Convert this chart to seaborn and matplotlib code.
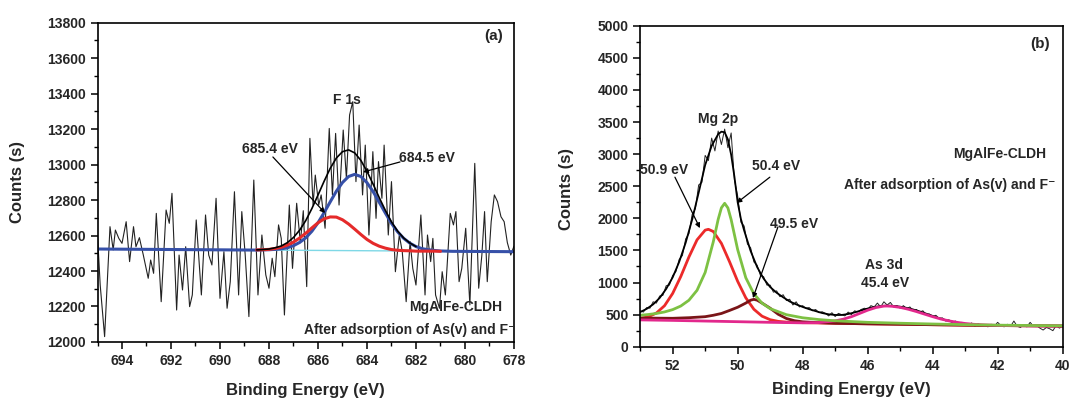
import seaborn as sns
import matplotlib.pyplot as plt
from matplotlib.ticker import MultipleLocator

sns.set_style('ticks')
plt.rcParams['font.family'] = ['Liberation Sans', 'DejaVu Sans']
plt.rcParams['font.weight'] = 'bold'
plt.rcParams['axes.labelweight'] = 'bold'

# ---------------- panel (a): F 1s ----------------
f1s_energy = [695.00, 694.89, 694.71, 694.49, 694.36, 694.27, 694.13, 694.00, 693.83, 693.69,
              693.53, 693.43, 693.29, 693.13, 692.93, 692.83, 692.71, 692.60, 692.40, 692.20,
              692.07, 691.96, 691.77, 691.67, 691.53, 691.40, 691.24, 691.13, 690.97,
              690.76, 690.59, 690.46, 690.33, 690.16, 690.00, 689.84, 689.71, 689.58, 689.41,
              689.24, 689.11, 688.97, 688.82, 688.62, 688.45, 688.29, 688.13, 688.00, 687.87,
              687.76, 687.61, 687.50, 687.37, 687.17, 687.04, 686.87, 686.72, 686.60,
              686.46, 686.33, 686.20, 686.11, 685.97, 685.87, 685.71, 685.54, 685.41, 685.28,
              685.14, 684.97, 684.84, 684.71, 684.58, 684.45, 684.32, 684.18, 684.07, 683.92,
              683.76, 683.63, 683.53, 683.39, 683.30, 683.13, 683.00, 682.84, 682.68,
              682.56, 682.40, 682.24, 682.13, 682.00, 681.80, 681.63, 681.53, 681.40, 681.31,
              681.20, 681.04, 680.93, 680.80, 680.60, 680.47, 680.37, 680.24, 680.13, 679.97,
              679.80, 679.60, 679.44, 679.31, 679.20, 679.09, 678.93, 678.80, 678.67, 678.53,
              678.40, 678.27, 678.13, 678.00]
f1s_counts = [12603, 12321, 12030, 12650, 12519, 12631, 12584, 12556, 12678, 12453,
              12650, 12537, 12588, 12490, 12359, 12462, 12387, 12725, 12227, 12744,
              12669, 12838, 12180, 12490, 12293, 12537, 12199, 12265, 12688,
              12265, 12716, 12490, 12434, 12810, 12246, 12509, 12190, 12340, 12847,
              12265, 12735, 12490, 12143, 12913, 12265, 12603, 12378, 12303, 12472,
              12368, 12660, 12584, 12152, 12772, 12415, 12782, 12560, 12740,
              12312, 13148, 12772, 12941, 12772, 12829, 12641, 13204, 12829, 13176,
              12772, 13195, 12923, 13280, 13355, 12904, 13223, 12829, 13110, 12603,
              13073, 12697, 13017, 12810, 13110, 12603, 12904, 12396, 12603,
              12509, 12227, 12566, 12415, 12321, 12716, 12265, 12603, 12453, 12584,
              12265, 12190, 12396, 12265, 12725, 12660, 12735, 12340, 12415, 12641,
              12209, 13007, 12303, 12490, 12735, 12340, 12678, 12829, 12791, 12706,
              12678, 12560, 12490, 12540]

base_a_energy = [695.0, 678.0]
base_a_counts = [12524, 12509]

fit_a_energy = [695.0, 688.5, 688.25, 688.0, 687.75, 687.5, 687.25, 687.0, 686.75, 686.5,
                686.25, 686.0, 685.75, 685.5, 685.25, 685.0, 684.75, 684.5, 684.25, 684.0,
                683.75, 683.5, 683.25, 683.0, 682.75, 682.5, 682.25, 682.0, 681.75, 681.5,
                681.25, 681.0, 680.75, 680.5, 678.0]
red_a = [12524, 12519, 12520, 12522, 12527, 12534, 12546, 12563, 12586, 12613,
         12643, 12672, 12694, 12705, 12704, 12689, 12665, 12636, 12606, 12578,
         12556, 12540, 12529, 12521, 12517, 12515, 12514, 12512, 12512, 12512,
         12512, 12511, 12511, 12511, 12509]
blue_a = [12524, 12518, 12519, 12520, 12522, 12525, 12531, 12543, 12561, 12587,
          12624, 12672, 12729, 12790, 12850, 12899, 12933, 12945, 12933, 12898,
          12848, 12788, 12727, 12669, 12621, 12584, 12557, 12538, 12526, 12520,
          12516, 12513, 12512, 12511, 12509]
sum_a = [12524, 12519, 12521, 12524, 12531, 12541, 12560, 12589, 12630, 12684,
         12752, 12828, 12906, 12979, 13037, 13073, 13083, 13066, 13024, 12962,
         12890, 12814, 12742, 12677, 12625, 12586, 12558, 12538, 12526, 12520,
         12516, 12513, 12512, 12511, 12509]

# ---------------- panel (b): Mg 2p / As 3d ----------------
mg_energy = [round(53.0 - 0.1 * i, 1) for i in range(131)]
mg_counts = [560, 540, 610, 600, 700, 680, 790, 800, 950, 960,
             1110, 1170, 1360, 1420, 1680, 1760, 2060, 2150, 2520, 2560,
             2980, 2900, 3250, 3050, 3360, 3150, 3390, 3100, 3330, 2600,
             2350, 1940, 1880, 1600, 1540, 1320, 1270, 1110, 1090, 960,
             960, 850, 870, 780, 810, 720, 740, 650, 700, 620,
             640, 600, 610, 560, 580, 530, 545, 520, 480, 530,
             470, 520, 500, 480, 540, 500, 560, 540, 580, 600,
             580, 640, 620, 680, 620, 700, 650, 690, 620, 640,
             600, 640, 590, 620, 560, 580, 540, 560, 500, 510,
             470, 490, 440, 450, 400, 420, 380, 400, 360, 380,
             340, 330, 370, 320, 360, 330, 340, 310, 350, 320,
             380, 330, 310, 350, 320, 400, 320, 300, 340, 310,
             380, 320, 330, 290, 260, 300, 280, 250, 330, 290,
             320]

env_b_energy = [round(53.0 - 0.1 * i, 1) for i in range(111)] + [41.0, 40.0]
env_b_counts = [540, 565, 590, 625, 660, 710, 760, 830, 900, 990,
                1080, 1200, 1320, 1470, 1620, 1800, 1980, 2190, 2400, 2615,
                2830, 2980, 3130, 3220, 3310, 3350, 3340, 3230, 2990, 2650,
                2250, 1990, 1810, 1650, 1490, 1365, 1240, 1150, 1060, 995,
                930, 885, 840, 805, 770, 738, 705, 683, 660, 640,
                620, 602, 585, 570, 555, 540, 525, 515, 505, 500,
                495, 494, 495, 502, 510, 522, 535, 550, 565, 580,
                595, 607, 618, 626, 633, 637, 640, 638, 636, 630,
                624, 615, 605, 593, 580, 565, 550, 533, 515, 498,
                480, 462, 445, 430, 415, 402, 390, 380, 370, 362,
                355, 350, 345, 342, 340, 338, 337, 336, 334, 333,
                332, 327, 322]

red_b_energy = [53.0, 52.75, 52.5, 52.25, 52.0, 51.75, 51.5, 51.25, 51.0, 50.9,
                50.75, 50.5, 50.25, 50.0, 49.75, 49.5, 49.25, 49.0, 48.75, 48.5,
                48.0, 47.0, 46.0, 45.0, 44.0, 43.0, 42.0, 41.0, 40.0]
red_b_counts = [441, 466, 525, 639, 830, 1094, 1397, 1665, 1816, 1829,
                1795, 1610, 1324, 1019, 762, 583, 476, 421, 395, 384,
                375, 365, 357, 350, 343, 336, 330, 326, 322]

green_b_energy = [53.0, 52.75, 52.5, 52.25, 52.0, 51.75, 51.5, 51.25, 51.0, 50.75,
                  50.6, 50.5, 50.4, 50.3, 50.2, 50.0, 49.75, 49.5, 49.25, 49.0,
                  48.5, 48.0, 47.5, 47.0, 46.0, 45.0, 44.0, 43.0, 42.0, 41.0, 40.0]
green_b_counts = [490, 502, 518, 542, 578, 634, 724, 879, 1157, 1634,
                  1983, 2164, 2234, 2162, 1979, 1514, 1075, 823, 679, 593,
                  499, 451, 423, 404, 380, 366, 354, 344, 336, 331, 326]

maroon_b_energy = [53.0, 52.5, 52.0, 51.5, 51.0, 50.75, 50.5, 50.25, 50.0, 49.75,
                   49.6, 49.5, 49.4, 49.25, 49.0, 48.75, 48.5, 48.25, 48.0, 47.5,
                   47.0, 46.0, 45.0, 44.0, 43.0, 42.0, 41.0, 40.0]
maroon_b_counts = [447, 445, 443, 452, 468, 490, 518, 565, 615, 680,
                   725, 738, 725, 680, 600, 505, 440, 405, 388, 375,
                   365, 357, 350, 343, 336, 330, 326, 322]

pink_b_energy = [53.0, 52.0, 51.0, 50.0, 49.0, 48.0, 47.5, 47.0, 46.75, 46.5,
                 46.25, 46.0, 45.75, 45.5, 45.4, 45.25, 45.0, 44.75, 44.5, 44.25,
                 44.0, 43.75, 43.5, 43.25, 43.0, 42.75, 42.5, 42.0, 41.0, 40.0]
pink_b_counts = [418, 410, 400, 390, 380, 372, 376, 403, 429, 468,
                 518, 569, 610, 633, 634, 630, 613, 584, 548, 508,
                 468, 432, 403, 380, 362, 350, 342, 332, 326, 322]

fig = plt.figure(figsize=(10.75, 3.99), dpi=100)
ax1 = fig.add_axes([0.0907, 0.143, 0.3874, 0.800])
ax2 = fig.add_axes([0.5955, 0.131, 0.3930, 0.8045])


def line(ax, x, y, color, lw):
    sns.lineplot(x=x, y=y, ax=ax, color=color, linewidth=lw, sort=False, estimator=None)


def arrow(ax, start, end):
    ax.annotate('', xy=end, xytext=start,
                arrowprops=dict(arrowstyle='-|>', color='black', lw=0.9,
                                mutation_scale=7, shrinkA=0, shrinkB=0))


# panel (a)
line(ax1, f1s_energy, f1s_counts, '#222222', 0.8)
line(ax1, base_a_energy, base_a_counts, '#7fd8e6', 1.0)
line(ax1, fit_a_energy, blue_a, '#3650a8', 2.2)
line(ax1, fit_a_energy[1:32], red_a[1:32], '#e52a2a', 2.2)
line(ax1, fit_a_energy[1:28], sum_a[1:28], 'black', 1.2)

ax1.set_xlim(695, 678)
ax1.set_ylim(12000, 13800)
ax1.xaxis.set_major_locator(MultipleLocator(2))
ax1.xaxis.set_minor_locator(MultipleLocator(1))
ax1.yaxis.set_major_locator(MultipleLocator(200))
ax1.yaxis.set_minor_locator(MultipleLocator(100))
ax1.set_xlabel('Binding Energy (eV)', fontsize=12, labelpad=11)
ax1.set_ylabel('Counts (s)', fontsize=12)
ax1.yaxis.set_label_coords(-0.173, 0.5)

ax1.text(684.82, 13364, 'F 1s', ha='center', va='center', fontsize=10)
ax1.text(678.45, 13724, '(a)', ha='right', va='center', fontsize=11)
ax1.text(687.98, 13088, '685.4 eV', ha='center', va='center', fontsize=10)
ax1.text(681.57, 13040, '684.5 eV', ha='center', va='center', fontsize=10)
ax1.text(680.37, 12197, 'MgAlFe-CLDH', ha='center', va='center', fontsize=10)
ax1.text(682.24, 12068, 'After adsorption of As(v) and F\u207b', ha='center', va='center', fontsize=10)
arrow(ax1, (687.84, 13043), (685.71, 12727))
arrow(ax1, (682.65, 13015), (684.16, 12958))

# panel (b)
line(ax2, mg_energy, mg_counts, '#222222', 0.7)
line(ax2, env_b_energy, env_b_counts, 'black', 1.3)
line(ax2, red_b_energy, red_b_counts, '#ec2a2a', 2.0)
line(ax2, maroon_b_energy, maroon_b_counts, '#7a1518', 2.0)
line(ax2, pink_b_energy, pink_b_counts, '#e2288c', 2.0)
line(ax2, green_b_energy, green_b_counts, '#7dc143', 2.0)

ax2.set_xlim(53, 40)
ax2.set_ylim(0, 5000)
ax2.xaxis.set_major_locator(MultipleLocator(2))
ax2.xaxis.set_minor_locator(MultipleLocator(1))
ax2.yaxis.set_major_locator(MultipleLocator(500))
ax2.yaxis.set_minor_locator(MultipleLocator(250))
ax2.set_xlabel('Binding Energy (eV)', fontsize=12, labelpad=7)
ax2.set_ylabel('Counts (s)', fontsize=12)
ax2.yaxis.set_label_coords(-0.157, 0.49)

ax2.text(40.39, 4716, '(b)', ha='right', va='center', fontsize=11)
ax2.text(50.61, 3546, 'Mg 2p', ha='center', va='center', fontsize=10)
ax2.text(52.27, 2753, '50.9 eV', ha='center', va='center', fontsize=10)
ax2.text(48.83, 2815, '50.4 eV', ha='center', va='center', fontsize=10)
ax2.text(48.25, 1909, '49.5 eV', ha='center', va='center', fontsize=10)
ax2.text(45.50, 1273, 'As 3d', ha='center', va='center', fontsize=10)
ax2.text(45.47, 993, '45.4 eV', ha='center', va='center', fontsize=10)
ax2.text(41.93, 3002, 'MgAlFe-CLDH', ha='center', va='center', fontsize=10)
ax2.text(43.47, 2520, 'After adsorption of As(v) and F\u207b', ha='center', va='center', fontsize=10)
arrow(ax2, (51.93, 2641), (51.16, 1847))
arrow(ax2, (49.01, 2641), (50.03, 2239))
arrow(ax2, (48.76, 1866), (49.53, 758))

for ax in (ax1, ax2):
    for sp in ax.spines.values():
        sp.set_visible(True)
        sp.set_linewidth(1.2)
        sp.set_color('black')
    ax.tick_params(which='major', direction='out', length=5, width=1.1,
                   labelsize=10, top=False, right=False, color='black')
    ax.tick_params(which='minor', direction='out', length=3, width=1.0,
                   top=False, right=False, color='black')
    for lab in ax.get_xticklabels() + ax.get_yticklabels():
        lab.set_fontweight('bold')

fig.savefig('out.png', dpi=100)
